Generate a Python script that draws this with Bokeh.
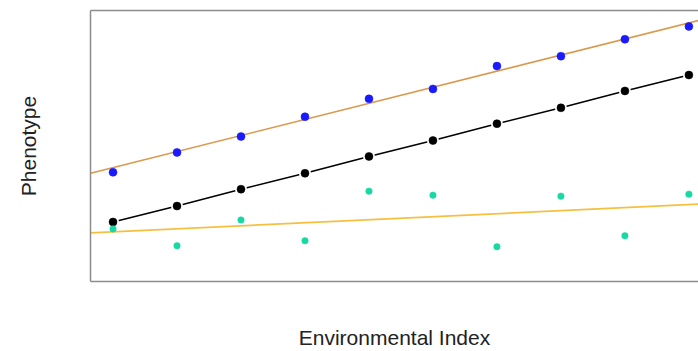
from bokeh.plotting import figure
from bokeh.models import LinearAxis, FixedTicker, Range1d
from bokeh.embed import file_html
from bokeh.resources import INLINE

# Data
env_index = [1, 2, 3, 4, 5, 6, 7, 8, 9, 10]
blue_pheno = [11.0, 13.0, 14.6, 16.6, 18.4, 19.4, 21.7, 22.7, 24.4, 25.7]
black_pheno = [6.0, 7.6, 9.3, 10.9, 12.6, 14.2, 15.9, 17.5, 19.2, 20.8]
green_pheno = [5.3, 3.6, 6.2, 4.1, 9.1, 8.7, 3.5, 8.6, 4.6, 8.8]

# Fitted lines (intercept, slope)
blue_fit = (9.85, 1.62)
green_fit = (4.70, 0.305)

x_lo, x_hi = 0.648, 10.15
y_lo, y_hi = 0.0, 27.3

p = figure(width=698, height=351, output_backend="svg", toolbar_location=None,
           x_range=Range1d(x_lo, x_hi), y_range=Range1d(y_lo, y_hi),
           x_axis_location=None, y_axis_location=None,
           min_border_left=90, min_border_top=10, min_border_bottom=68, min_border_right=0)
p.outline_line_color = None
p.xgrid.visible = False
p.ygrid.visible = False
p.background_fill_color = "white"
p.border_fill_color = "white"

frame_col = "#8c8c8c"

def bare_axis(label=""):
    ax = LinearAxis(ticker=FixedTicker(ticks=[]), axis_label=label)
    ax.axis_line_color = frame_col
    ax.axis_line_width = 1.5
    ax.major_tick_line_color = None
    ax.minor_tick_line_color = None
    ax.major_label_text_font_size = "0px"
    ax.axis_label_text_font = "Liberation Sans"
    ax.axis_label_text_font_style = "normal"
    ax.axis_label_text_color = "#222222"
    return ax

left = bare_axis("Phenotype")
left.axis_label_text_font_size = "21px"
left.axis_label_standoff = 51
p.add_layout(left, "left")

below = bare_axis("Environmental Index")
below.axis_label_text_font_size = "21px"
below.axis_label_standoff = 44
p.add_layout(below, "below")

above = bare_axis("")
p.add_layout(above, "above")

# regression lines
xs_line = [x_lo, x_hi]
p.line(xs_line, [blue_fit[0] + blue_fit[1] * x for x in xs_line], line_color="#d99a4e", line_width=1.6)
p.line(xs_line, [green_fit[0] + green_fit[1] * x for x in xs_line], line_color="#f5c040", line_width=1.8)

# black connected series with gaps around points
p.line(env_index, black_pheno, line_color="black", line_width=1.5)
p.scatter(env_index, black_pheno, size=8, fill_color="black", line_color="white", line_width=4)
p.scatter(env_index, black_pheno, size=8, fill_color="black", line_color="black", line_width=0.5)

p.scatter(env_index, blue_pheno, size=8, fill_color="#1a1aff", line_color="#1a1aff", line_width=0.5)
p.scatter(env_index, green_pheno, size=6.5, fill_color="#19d8a4", line_color="#19d8a4", line_width=0.5)

open("out.html", "w").write(file_html(p, INLINE))
